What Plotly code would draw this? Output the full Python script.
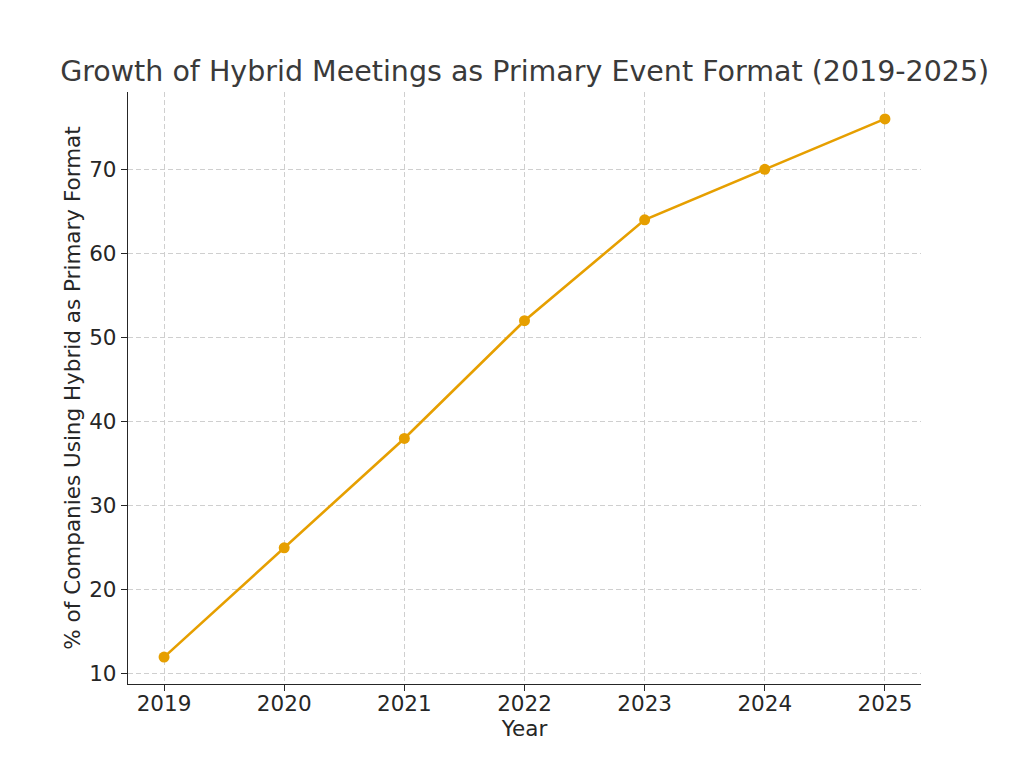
import plotly.graph_objects as go

years = [2019, 2020, 2021, 2022, 2023, 2024, 2025]
pct_hybrid = [12, 25, 38, 52, 64, 70, 76]
y_ticks = [10, 20, 30, 40, 50, 60, 70]

title_text = "Growth of Hybrid Meetings as Primary Event Format (2019-2025)"
x_label = "Year"
y_label = "% of Companies Using Hybrid as Primary Format"

color = "#E69F00"
font_family = "DejaVu Sans"

fig = go.Figure()
fig.add_trace(go.Scatter(
    x=years, y=pct_hybrid, mode="lines+markers",
    line=dict(color=color, width=2.6),
    marker=dict(color=color, size=11),
    showlegend=False,
))

ymin, ymax = min(pct_hybrid), max(pct_hybrid)
ypad = (ymax - ymin) * 0.05
xmin, xmax = min(years), max(years)
xpad = (xmax - xmin) * 0.05

fig.update_layout(
    width=1024, height=768,
    margin=dict(l=128, r=103, t=92, b=84),
    paper_bgcolor="white", plot_bgcolor="white",
    font=dict(family=font_family, size=21.5, color="#262626"),
    title=dict(text=title_text, x=0.5124, xanchor="center", y=0.907, yanchor="middle",
               font=dict(size=28.5, color="#3a3a3a", family=font_family)),
)
fig.update_xaxes(
    range=[xmin - xpad, xmax + xpad], tickmode="array", tickvals=years,
    ticktext=[str(y) for y in years],
    showline=True, linecolor="#262626", linewidth=1.4, mirror=False,
    ticks="outside", ticklen=6, tickwidth=1.3, tickcolor="#262626",
    showgrid=True, gridcolor="#cfcfcf", griddash="5px,3px", gridwidth=1,
    zeroline=False, ticklabelstandoff=-6,
    title=dict(text=x_label, font=dict(size=21.5), standoff=2),
)
fig.update_yaxes(
    range=[ymin - ypad, ymax + ypad], tickmode="array", tickvals=y_ticks,
    showline=True, linecolor="#262626", linewidth=1.4, mirror=False,
    ticks="outside", ticklen=6, tickwidth=1.3, tickcolor="#262626",
    showgrid=True, gridcolor="#cfcfcf", griddash="5px,3px", gridwidth=1,
    zeroline=False,
    title=dict(text=y_label, font=dict(size=21.5), standoff=2),
)

fig.write_html("out.html")
